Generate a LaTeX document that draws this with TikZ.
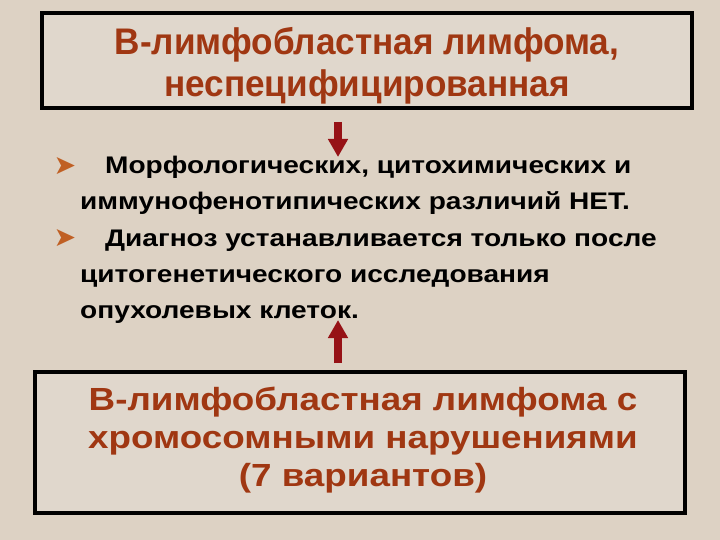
\documentclass[tikz,border=0pt]{standalone}
\usepackage{fontspec}
\setmainfont{Liberation Sans}
\newfontfamily\symfont{DejaVu Sans}
\newfontfamily\headfont[FakeStretch=0.95]{Liberation Sans}
\newfontfamily\widehead[FakeStretch=1.15]{Liberation Sans}
\newfontfamily\bodyfont[FakeStretch=1.17]{Liberation Sans}
\usetikzlibrary{positioning,arrows.meta}
\definecolor{bgbeige}{RGB}{221,210,196}
\definecolor{boxbeige}{RGB}{224,215,204}
\definecolor{titlebrown}{RGB}{160,55,18}
\definecolor{bulletbrown}{RGB}{192,96,36}
\definecolor{arrowred}{RGB}{150,18,22}
\tikzset{
    every node/.style={
        font=\bfseries
    },
    heading/.style={
        text=titlebrown,
        align=center,
        anchor=base,
        inner sep=0pt
    },
    bullettext/.style={
        font=\fontsize{24}{36}\bodyfont\bfseries\selectfont,
        align=left,
        anchor=base west,
        inner sep=0pt
    },
    bulletmark/.style={
        font=\fontsize{27}{27}\symfont\selectfont,
        text=bulletbrown,
        anchor=center,
        inner sep=0pt
    },
    link/.style={
        arrowred,
        line width=8pt,
        -{Triangle[length=18pt,width=19pt]}
    }
}
\tikzstyle{frame} = [rectangle, draw=black, line width=3.5pt, fill=boxbeige, inner sep=0pt]

\begin{document}
\begin{tikzpicture}[x=1pt, y=-1pt]
			\fill[bgbeige] (0,0) rectangle (720,540);
			\useasboundingbox (0,0) rectangle (720,540);
			
			\node (topbox) [frame, minimum width=650pt, minimum height=95pt] at (367, 60.5) {};
			\node (toptxt) [heading, font=\fontsize{37}{42}\headfont\bfseries\selectfont] at (367, 97) {В-лимфобластная лимфома,\\неспецифицированная};
			
			\node (b1) [bulletmark] at (65, 166) {➤};
			\node (t1) [bullettext] at (80, 210) {\hspace*{25pt}Морфологических, цитохимических и\\иммунофенотипических различий НЕТ.};
			\node (b2) [bulletmark] at (65, 238) {➤};
			\node (t2) [bullettext] at (80, 318) {\hspace*{25pt}Диагноз устанавливается только после\\цитогенетического исследования\\опухолевых клеток.};
			
			\node (botbox) [frame, minimum width=650pt, minimum height=141pt] at (360, 442.5) {};
			\node (bottxt) [heading, font=\fontsize{32}{38}\widehead\bfseries\selectfont] at (363, 486) {В-лимфобластная лимфома с\\хромосомными нарушениями\\(7 вариантов)};
			
			\coordinate (downstart) at (338, 122);
			\coordinate (downend) at (338, 157);
			\coordinate (upstart) at (338, 363);
			\coordinate (upend) at (338, 320);
			\draw [link] (downstart) -- (downend);
			\draw [link] (upstart) -- (upend);
		\end{tikzpicture}
\end{document}
